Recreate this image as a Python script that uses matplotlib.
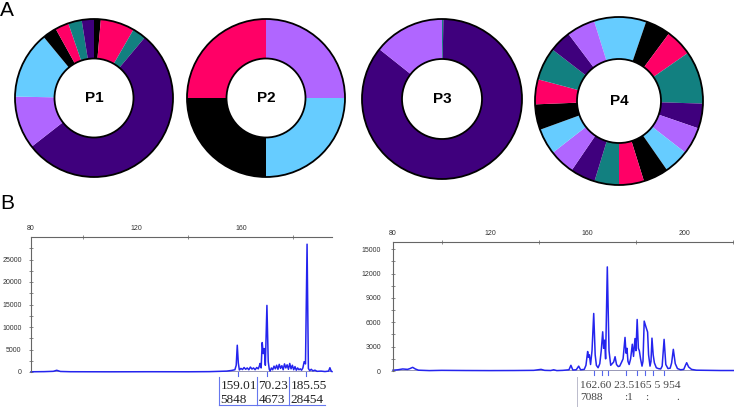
import matplotlib
matplotlib.use('Agg')
import matplotlib.pyplot as plt
from matplotlib.patches import Circle
from matplotlib.ticker import FixedLocator, NullFormatter

W, H = 734, 407

# ---------------- colours ----------------
PURPLE = '#3f007d'
LAV = '#b066ff'
LBLUE = '#66ccff'
BLACK = '#000000'
PINK = '#ff0066'
TEAL = '#128080'

# ---------------- donut data (angular shares, clockwise from start) ----------------
p1_colors = [BLACK, PINK, TEAL, PURPLE, LAV, LBLUE, BLACK, PINK, TEAL, PURPLE]
p1_values = [5, 25, 10, 192, 39, 49.5, 10.5, 10, 10, 9]
p2_colors = [LAV, LBLUE, BLACK, PINK]
p2_values = [90, 90, 90, 90]
p3_colors = [TEAL, PURPLE, LAV]
p3_values = [1, 307.5, 51.5]
p4_colors = [LBLUE, BLACK, PINK, TEAL, PURPLE, LAV, LBLUE, BLACK, PINK, TEAL,
             PURPLE, LAV, LBLUE, BLACK, PINK, TEAL, PURPLE, LAV]
p4_values = [36.2, 17.6, 18.6, 36.7, 17.2, 18.9, 17.3, 17.5, 17.3, 17.0,
             17.3, 17.7, 18.0, 17.7, 17.3, 22.7, 15.3, 19.7]
donut_labels = ['P1', 'P2', 'P3', 'P4']

# ---------------- electropherogram data ----------------
left_x = [80, 85, 88.5, 89.8, 91.2, 95, 110, 125, 140, 148, 152, 154.6, 156.5, 157.7,
          158.2, 158.6, 159.0, 159.4, 160.0, 160.6, 161.2, 161.8, 162.4, 163.0, 163.6,
          164.2, 164.8, 165.4, 166.0, 166.6, 167.0, 167.3, 167.7, 168.1, 168.5, 168.9,
          169.3, 169.9, 170.4, 170.8, 171.1, 171.6, 172.1, 172.6, 173.1, 173.6, 174.1,
          174.6, 175.1, 175.6, 176.1, 176.6, 177.1, 177.6, 178.1, 178.6, 179.1, 179.6,
          180.1, 180.6, 181.1, 181.6, 182.1, 182.6, 183.1, 183.6, 184.1, 184.6, 185.2,
          185.7, 186.2, 186.8, 187.4, 188.2, 189, 190.5, 192, 193.4, 193.9, 194.4, 194.7]
left_y = [50, 80, 150, 380, 120, 60, 40, 60, 50, 80, 150, 200, 350, 500,
          1500, 5950, 2000, 450, 800, 550, 1000, 600, 900, 500, 1100,
          650, 900, 500, 1000, 700, 1300, 1900, 900, 6540, 4100, 5200,
          1500, 14800, 2300, 600, 200, 900, 500, 1300, 700, 1500, 600,
          1700, 800, 1400, 500, 1800, 900, 1600, 600, 1900, 700, 1500,
          500, 1200, 400, 900, 500, 700, 400, 900, 2300, 1800, 28400,
          800, 300, 600, 250, 400, 150, 200, 100, 200, 950, 150, 100]
left_calls = [158.7, 169.8, 184.8]
left_sizes = ['159.01', '70.23', '185.55']
left_heights = ['5848', '4673', '28454']

right_x = [80, 82, 84, 86, 87, 88.1, 89.2, 90.5, 95, 100, 110, 120, 130, 138, 141, 142.5,
           145, 146.2, 147.5, 150, 152.5, 153.3, 154.1, 155.5, 156.5, 157.3, 158.8, 159.5,
           160.2, 160.5, 160.9, 161.4, 162.0, 162.7, 163.3, 163.8, 164.5, 165.2, 165.8,
           166.4, 166.8, 167.2, 167.6, 168.3, 169.0, 169.7, 170.3, 170.9, 171.5, 172.1,
           172.8, 173.4, 174.2, 174.8, 175.6, 176.0, 176.4, 176.8, 177.3, 177.9, 178.6,
           179.1, 179.7, 180.1, 180.6, 181.1, 181.5, 182.0, 182.6, 183.0, 183.5, 184.2,
           184.9, 185.3, 185.9, 186.3, 186.7, 187.2, 187.7, 188.5, 189.3, 190.3, 190.9,
           191.7, 192.4, 193.3, 194.2, 194.8, 195.5, 196.3, 197.2, 198.5, 199.8, 200.5,
           201, 201.8, 203, 205, 210, 215, 221]
right_y = [100, 150, 250, 200, 300, 450, 250, 100, 50, 80, 60, 50, 60, 80, 200, 80,
           60, 150, 50, 80, 150, 700, 120, 150, 600, 150, 200, 700,
           2400, 1700, 2000, 800, 2500, 7090, 2000, 700, 400, 900, 2500,
           4830, 2800, 3800, 1500, 12830, 2500, 700, 900, 1100, 1760, 800,
           550, 600, 1100, 1500, 4140, 2200, 2800, 1200, 800, 1500, 3300,
           1800, 4000, 2500, 6350, 2800, 2500, 1500, 600, 1200, 6150, 5450,
           4800, 2000, 600, 1200, 4050, 2000, 1000, 400, 300, 250, 600,
           3900, 800, 300, 350, 1000, 2670, 900, 300, 150, 200, 700,
           1020, 500, 200, 100, 80, 60, 60]
right_calls = [162.9, 166.3, 168.4, 175.8, 180.7, 184.0, 187.1, 191.5]
right_line1 = '162.60 23.5165 5 954'
right_line2 = ['7088', ':1', ':', '.']

# ---------------- helpers ----------------
def rect(x0, y0, x1, y1):
    return [x0 / W, 1 - y1 / H, (x1 - x0) / W, (y1 - y0) / H]

def fx(px):
    return px / W

def fy(py):
    return 1 - py / H

fig = plt.figure(figsize=(W / 100, H / 100), dpi=100)
fig.patch.set_facecolor('white')

SANS = ['Liberation Sans', 'DejaVu Sans']
SERIF = ['Liberation Serif', 'DejaVu Serif']

# ---------------- donuts ----------------
donuts = [
    (94, 98, 79, p1_values, p1_colors, 90),
    (266, 98, 79, p2_values, p2_colors, 90),
    (442, 99, 80, p3_values, p3_colors, 90),
    (619, 101, 84, p4_values, p4_colors, 107.3),
]
for (cx, cy, R, vals, cols, start), lab in zip(donuts, donut_labels):
    ax = fig.add_axes(rect(cx - R, cy - R, cx + R, cy + R))
    ax.pie(vals, colors=cols, startangle=start, counterclock=False, radius=1,
           wedgeprops=dict(width=0.5, linewidth=0))
    ax.add_patch(Circle((0, 0), 1, fill=False, ec='black', lw=1.3, clip_on=False))
    ax.add_patch(Circle((0, 0), 0.5, fill=False, ec='black', lw=1.3, clip_on=False))
    ax.text(0, 0, lab, ha='center', va='center', fontsize=11, fontweight='bold',
            family=SANS)
    ax.set_xlim(-1, 1)
    ax.set_ylim(-1, 1)
    ax.set_aspect('equal')
    ax.axis('off')

fig.text(fx(0), fy(1), 'A', ha='left', va='top', fontsize=15, family=SANS)
fig.text(fx(0), fy(194), 'B', ha='left', va='top', fontsize=15, family=SANS)

# ---------------- electropherograms ----------------
def style_trace_axes(ax, xmajor, xminor, ymajor, yminor, ypad):
    for s in ['right', 'bottom']:
        ax.spines[s].set_visible(False)
    for s in ['top', 'left']:
        ax.spines[s].set_color('#666666')
        ax.spines[s].set_linewidth(0.8)
    ax.xaxis.tick_top()
    ax.xaxis.set_major_locator(FixedLocator(xmajor))
    ax.xaxis.set_minor_locator(FixedLocator(xminor))
    ax.yaxis.set_major_locator(FixedLocator(ymajor))
    ax.yaxis.set_minor_locator(FixedLocator(yminor))
    ax.tick_params(axis='both', which='both', direction='inout', color='#777777',
                   width=0.6, labelsize=5, labelcolor='#333333')
    ax.tick_params(axis='x', which='major', length=0, pad=3.5)
    ax.tick_params(axis='x', which='minor', length=3.5)
    ax.tick_params(axis='y', which='both', length=3.5, pad=ypad)
    ax.xaxis.set_minor_formatter(NullFormatter())
    for t in ax.get_xticklabels() + ax.get_yticklabels():
        t.set_family(SANS)

# left panel
axL = fig.add_axes(rect(31, 237, 332, 372))
axL.axhline(0, color='#8888aa', lw=1.2, zorder=1)
axL.plot(left_x, left_y, color='#2424ee', lw=1.1, zorder=2, clip_on=False)
axL.set_xlim(80, 194.7)
axL.set_ylim(0, 30000)
style_trace_axes(axL, [80, 120, 160], [100, 140, 180],
                 [0, 5000, 10000, 15000, 20000, 25000],
                 [2500, 7500, 12500, 17500, 22500, 27500], 5)
for xc in left_calls:
    axL.plot([xc, xc], [0, -900], color='#5566ee', lw=0.8, clip_on=False)

# left annotation boxes
box_left = [219, 257, 289]
box_right = [257, 289, 325]
for xl, xr, s, h in zip(box_left, box_right, left_sizes, left_heights):
    fig.add_artist(plt.Line2D([fx(xl), fx(xl)], [fy(377), fy(405)], color='#6677ee', lw=0.8))
    fig.add_artist(plt.Line2D([fx(xl), fx(xr)], [fy(405), fy(405)], color='#6677ee', lw=0.8))
    fig.text(fx(xl + 1.5), fy(386), s, ha='left', va='center', fontsize=9.5,
             family=SERIF, color='#222222')
    fig.text(fx(xl + 1.5), fy(400), h, ha='left', va='center', fontsize=9.5,
             family=SERIF, color='#222222')

# right panel
axR = fig.add_axes(rect(393, 242, 734, 371))
axR.axhline(0, color='#8888aa', lw=1.2, zorder=1)
axR.plot(right_x, right_y, color='#2424ee', lw=1.1, zorder=2, clip_on=False)
axR.set_xlim(80, 220.5)
axR.set_ylim(0, 15900)
style_trace_axes(axR, [80, 120, 160, 200], [100, 140, 180, 220],
                 [0, 3000, 6000, 9000, 12000, 15000],
                 [1500, 4500, 7500, 10500, 13500], 7)
for xc in right_calls:
    axR.plot([xc, xc], [0, -450], color='#5566ee', lw=0.8, clip_on=False)

fig.add_artist(plt.Line2D([fx(577), fx(577)], [fy(377), fy(407)], color='#bbbbcc', lw=0.7))
fig.text(fx(580), fy(385), right_line1, ha='left', va='center', fontsize=8.2,
         family=SERIF, color='#444444')
for txt, px in zip(right_line2, [580, 624, 645, 676]):
    fig.text(fx(px), fy(397), txt, ha='left', va='center', fontsize=8.2,
             family=SERIF, color='#444444')

fig.savefig('out.png', dpi=100, facecolor='white')
